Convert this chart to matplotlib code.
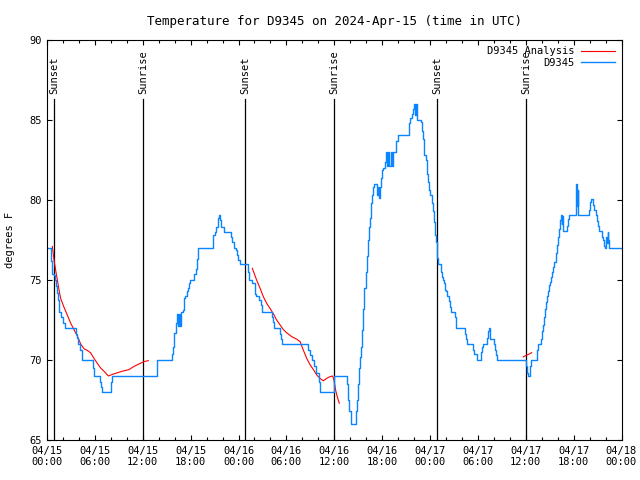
import numpy as np
import matplotlib
matplotlib.use("Agg")
import matplotlib.pyplot as plt

# hours since 2024-04-15 00:00 UTC
title = "Temperature for D9345 on 2024-Apr-15 (time in UTC)"
ylabel = "degrees F"
xtick_hours = [0, 6, 12, 18, 24, 30, 36, 42, 48, 54, 60, 66, 72]
xtick_labels = ["04/15\n00:00", "04/15\n06:00", "04/15\n12:00", "04/15\n18:00",
                "04/16\n00:00", "04/16\n06:00", "04/16\n12:00", "04/16\n18:00",
                "04/17\n00:00", "04/17\n06:00", "04/17\n12:00", "04/17\n18:00",
                "04/18\n00:00"]
ytick_vals = [65, 70, 75, 80, 85, 90]

sun_hours = [0.92, 12.07, 24.85, 36.0, 48.9, 60.07]
sun_labels = ["Sunset", "Sunrise", "Sunset", "Sunrise", "Sunset", "Sunrise"]

# observed station temps (step changes: hour, value)
obs_h = [0.13, 0.46, 0.55, 0.67, 0.85, 0.96, 1.17, 1.30, 1.38, 1.55, 1.80, 2.0, 2.21,
         3.68, 3.80, 3.93, 4.14, 4.34, 5.76, 5.89, 6.64, 6.81, 6.93, 8.0, 8.15, 13.8,
         15.71, 15.82, 15.96, 16.12, 16.25, 16.4, 16.55, 16.67, 16.8, 17.0,
         17.2, 17.29, 17.5, 17.65, 17.79, 17.92, 18.46, 18.63, 18.8, 18.96, 20.76,
         20.85, 21.05, 21.2, 21.39, 21.5, 21.68, 21.85, 22.18, 23.02, 23.2, 23.47,
         23.65, 23.8, 23.95, 24.19, 25.23, 25.31, 25.73, 26.07, 26.2, 26.57, 26.82,
         26.98, 28.24, 28.35, 28.49, 29.2, 29.35, 29.49, 32.75, 33.0, 33.17, 33.46,
         33.71, 34.09, 34.21, 36.0, 37.64, 37.75, 37.9, 38.05, 38.68, 38.8, 38.93,
         39.10, 39.22, 39.35, 39.51, 39.64, 39.76, 39.93, 40.06, 40.18, 40.35, 40.48,
         40.60, 40.77, 40.89, 41.02, 41.35, 41.44, 41.55, 41.73, 41.85, 42.02, 42.15,
         42.3, 42.44, 42.6, 42.75, 42.9, 43.05, 43.2, 43.35, 43.53, 43.69, 43.8,
         43.94, 45.40, 45.55, 45.70, 45.85, 46.03, 46.15, 46.25, 46.41, 46.87,
         47.0, 47.16, 47.3, 47.45, 47.58, 47.70, 47.87, 48.0, 48.20, 48.35, 48.54,
         48.65, 48.75, 48.83, 48.91, 49.04, 49.37, 49.5, 49.58, 49.7, 49.87, 49.95,
         50.08, 50.38, 50.5, 50.6, 51.13, 51.25, 52.38, 52.46, 52.59, 53.43, 53.55,
         53.84, 54.39, 54.47, 54.59, 55.1, 55.22, 55.39, 55.51, 56.06, 56.14, 56.3,
         56.43, 60.07, 60.2, 60.32, 60.53, 60.65, 61.44, 61.57, 61.9, 61.99, 62.2,
         62.32, 62.45, 62.53, 62.61, 62.75, 62.91, 63.03, 63.15, 63.33, 63.45, 63.58,
         63.74, 63.87, 64.0, 64.16, 64.29, 64.41, 64.49, 64.55, 64.62, 64.70, 65.12,
         65.25, 65.41, 66.3, 66.37, 66.5, 66.6, 67.96, 68.05, 68.17, 68.45, 68.55,
         68.76, 68.9, 69.01, 69.17, 69.5, 69.63, 69.80, 69.92, 70.05, 70.15, 70.26,
         70.34, 70.46, 71.9]
obs_t = [77.0, 76.5, 76.2, 75.4, 75.3, 75.0, 74.6, 74.2, 73.75, 73.0, 72.7, 72.3, 72.0,
         71.6, 71.35, 71.0, 70.6, 70.0, 69.5, 69.0, 68.6, 68.3, 68.0, 68.6, 69.0, 70.0,
         70.4, 70.8, 71.7, 72.3, 72.9, 72.1, 72.9, 72.1, 73.0, 73.1,
         73.9, 74.0, 74.3, 74.5, 74.8, 75.0, 75.4, 75.7, 76.3, 77.0, 77.3,
         77.8, 78.0, 78.3, 78.85, 79.06, 78.75, 78.3, 78.0, 77.7, 77.4, 77.0,
         76.9, 76.55, 76.25, 76.0, 75.5, 75.0, 74.8, 74.1, 74.0, 73.75, 73.45,
         73.0, 72.7, 72.4, 72.0, 71.6, 71.3, 71.0, 70.6, 70.3, 70.0, 69.6,
         69.2, 68.6, 68.0, 69.0, 68.5, 67.5, 66.8, 66.0, 66.8, 67.5, 68.5,
         69.5, 70.2, 70.8, 71.9, 73.2, 74.5, 75.5, 76.5, 77.5, 78.3, 78.85,
         79.8, 80.3, 80.8, 81.0, 80.3, 80.8, 80.1, 80.8, 81.35, 81.9, 82.0,
         82.4, 83.0, 82.1, 83.0, 82.1, 83.0, 82.1, 83.0, 83.0, 83.3, 83.7,
         84.06, 84.8, 85.1, 85.4, 85.7, 86.0, 85.3, 86.0, 85.0, 84.9,
         84.3, 83.8, 82.8, 82.5, 81.6, 81.1, 80.6, 80.3, 79.8, 79.3, 78.6,
         77.8, 77.4, 76.8, 76.4, 76.0, 75.5, 75.2, 75.0, 74.8, 74.4, 74.3,
         74.0, 73.7, 73.3, 73.0, 72.7, 72.0, 71.6, 71.3, 71.0, 70.6, 70.4,
         70.0, 70.5, 70.8, 71.0, 71.4, 71.8, 72.0, 71.3, 71.0, 70.6, 70.3,
         70.0, 69.6, 69.2, 69.0, 69.6, 70.0, 70.6, 71.0, 71.3, 71.8, 72.2,
         72.7, 73.2, 73.6, 74.0, 74.3, 74.7, 74.9, 75.2, 75.5, 75.8, 76.1,
         76.7, 77.2, 77.7, 78.2, 78.75, 79.06, 78.5, 79.0, 78.2, 78.06, 78.4,
         78.8, 79.06, 81.0, 79.6, 80.6, 79.06, 79.4, 79.9, 80.04, 79.7, 79.4,
         79.06, 78.7, 78.4, 78.06, 77.7, 77.5, 77.1, 77.0, 77.7, 77.3, 78.0,
         77.5, 77.0, 77.0]

# analysis, three pieces
an1_h = [0.67, 0.88, 1.09, 1.3, 1.5, 1.71, 2.13, 2.55, 2.97, 3.38, 3.8, 4.22, 4.64,
         5.05, 5.47, 5.89, 6.3, 6.72, 7.14, 7.69, 8.19, 8.81, 9.44, 10.28, 10.9,
         11.53, 12.15, 12.7]
an1_t = [77.1, 76.25, 75.6, 75.0, 74.4, 73.85, 73.3, 72.8, 72.3, 71.9, 71.5, 71.0, 70.7,
         70.6, 70.45, 70.1, 69.8, 69.5, 69.3, 69.0, 69.1, 69.2, 69.3, 69.4, 69.6,
         69.75, 69.9, 69.96]
an2_h = [25.73, 26.27, 26.69, 27.11, 27.53, 27.94, 28.36, 28.78, 29.2, 29.62, 30.04,
         30.67, 31.3, 31.72, 32.14, 32.55, 32.97, 33.39, 33.81, 34.21, 34.63, 35.04,
         35.46, 35.8, 35.96, 36.18, 36.38, 36.63]
an2_t = [75.73, 75.0, 74.5, 73.96, 73.54, 73.23, 72.9, 72.5, 72.2, 71.9, 71.7,
         71.46, 71.3, 71.15, 70.6, 70.1, 69.7, 69.4, 69.06, 68.85, 68.7, 68.85,
         68.96, 69.0, 68.75, 68.1, 67.7, 67.3]
an3_h = [59.69, 60.11, 60.53, 60.74]
an3_t = [70.2, 70.3, 70.4, 70.46]

plt.rcParams['font.family'] = 'DejaVu Sans Mono'
plt.rcParams['font.size'] = 7.5

fig = plt.figure(figsize=(6.4, 4.8), dpi=100)
ax = fig.add_axes([47 / 640, 40 / 480, 574.5 / 640, 400 / 480])

for h, lab in zip(sun_hours, sun_labels):
    ax.plot([h, h], [65, 86.3], color='black', lw=0.9)
    ax.text(h, 86.6, lab, rotation=90, ha='center', va='bottom')

ax.plot(np.concatenate([an1_h, [np.nan], an2_h, [np.nan], an3_h]),
        np.concatenate([an1_t, [np.nan], an2_t, [np.nan], an3_t]),
        color='#ff0000', lw=0.8, label='D9345 Analysis')
ax.plot(obs_h, obs_t, color='#0a84ff', lw=1.0, drawstyle='steps-post', label='D9345')

ax.set_xlim(0, 72)
ax.set_ylim(65, 90)
ax.set_xticks(xtick_hours)
ax.set_xticklabels(xtick_labels)
ax.set_xticks(np.arange(0, 73, 2), minor=True)
ax.set_yticks(ytick_vals)
ax.tick_params(which='both', direction='in', top=True, right=True, width=0.8)
ax.tick_params(which='major', length=3.5, pad=4)
ax.tick_params(which='minor', length=2)
for s in ax.spines.values():
    s.set_linewidth(0.8)

ax.set_title(title, pad=11)
ax.set_ylabel(ylabel, labelpad=10)

ax.legend(loc='upper right', frameon=False, markerfirst=False, handlelength=3.3,
          borderaxespad=0.2, labelspacing=0.15, handletextpad=0.6)

fig.savefig('out.png', dpi=100)
